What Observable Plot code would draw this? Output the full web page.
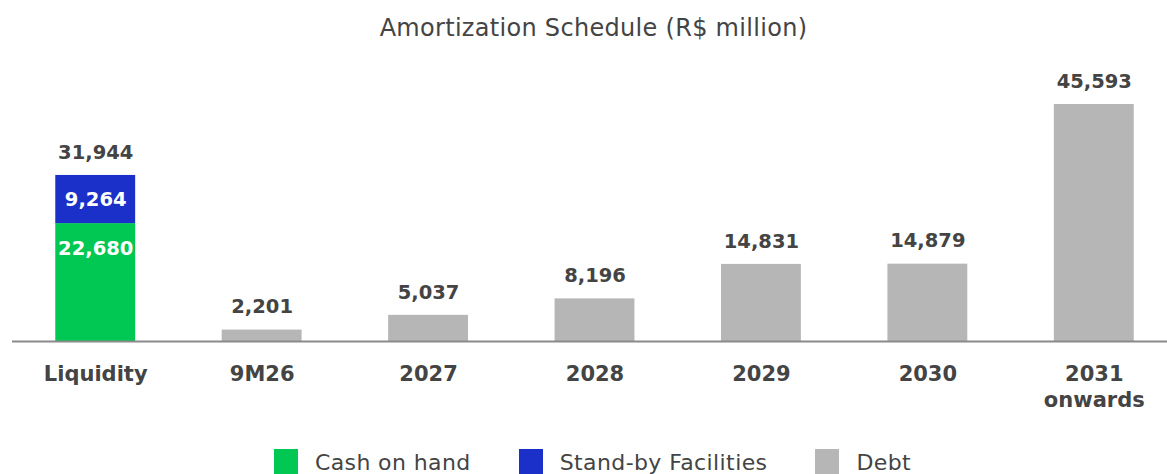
<!DOCTYPE html>
<html>
<head>
<meta charset="utf-8">
<script src="https://cdn.jsdelivr.net/npm/d3@7"></script>
<script src="https://cdn.jsdelivr.net/npm/@observablehq/plot@0.6"></script>
<style>
  html, body { margin: 0; padding: 0; background: #fff; }
  body { width: 1167px; height: 474px; overflow: hidden; font-family: "DejaVu Sans", sans-serif; color: #444; }
  #title { height: 56px; line-height: 56px; text-align: center; font-size: 24px; letter-spacing: 0.3px; color: #444; padding-left: 20px; }
  #legend { height: 42px; display: flex; justify-content: center; align-items: center; padding-left: 18px; font-size: 22px; letter-spacing: 0.4px; color: #444; }
  .item { display: flex; align-items: center; margin: 0 24px; }
  .sw { width: 24px; height: 26px; margin-right: 17px; }
</style>
</head>
<body>
<div id="title">Amortization Schedule (R$ million)</div>
<div id="chart"></div>
<div id="legend"></div>
<script>
const categories = ["Liquidity", "9M26", "2027", "2028", "2029", "2030", "2031\nonwards"];
const cashOnHand = [22680, null, null, null, null, null, null];
const standBy = [9264, null, null, null, null, null, null];
const debt = [null, 2201, 5037, 8196, 14831, 14879, 45593];
const seriesNames = ["Cash on hand", "Stand-by Facilities", "Debt"];
const seriesColors = ["#00c853", "#1b30c8", "#b6b6b6"];

const rows = [];
categories.forEach((c, i) => {
  if (cashOnHand[i] != null) rows.push({cat: c, series: seriesNames[0], value: cashOnHand[i]});
  if (standBy[i] != null) rows.push({cat: c, series: seriesNames[1], value: standBy[i]});
  if (debt[i] != null) rows.push({cat: c, series: seriesNames[2], value: debt[i]});
});
const totals = categories.map((c, i) => ({cat: c, total: (cashOnHand[i] || 0) + (standBy[i] || 0) + (debt[i] || 0)}));
const cashLabels = [], standLabels = [];
categories.forEach((c, i) => {
  if (cashOnHand[i] != null) cashLabels.push({cat: c, y: cashOnHand[i], v: cashOnHand[i]});
  if (standBy[i] != null) standLabels.push({cat: c, y: (cashOnHand[i] || 0) + standBy[i] / 2, v: standBy[i]});
});
const fmt = d3.format(",");
const numFont = "DejaVu Sans, sans-serif";

const chart = Plot.plot({
  width: 1167,
  height: 385,
  marginLeft: 12,
  marginRight: 0,
  marginTop: 0,
  marginBottom: 100,
  style: {color: "#444", background: "white"},
  x: {domain: categories, range: [12, 1177], paddingInner: 0.52, paddingOuter: 0.26, align: 0.5, round: false},
  y: {domain: [0, 45593], range: [285, 48], axis: null},
  color: {domain: seriesNames, range: seriesColors},
  marks: [
    Plot.barY(rows, {x: "cat", y: "value", fill: "series", order: seriesNames}),
    Plot.ruleY([0], {stroke: "#8a8a8a", strokeWidth: 2}),
    Plot.text(totals, {x: "cat", y: "total", text: d => fmt(d.total), dy: -23, fontSize: 19.5, fontWeight: "bold", fill: "#444", fontFamily: numFont}),
    Plot.text(cashLabels, {x: "cat", y: "y", text: d => fmt(d.v), dy: 25, fontSize: 19.5, fontWeight: "bold", fill: "white", fontFamily: numFont}),
    Plot.text(standLabels, {x: "cat", y: "y", text: d => fmt(d.v), fontSize: 19.5, fontWeight: "bold", fill: "white", fontFamily: numFont}),
    Plot.axisX({tickSize: 0, tickPadding: 20, fontSize: 21, fontWeight: "bold", lineHeight: 1.28, fontFamily: numFont, label: null})
  ]
});
document.getElementById("chart").appendChild(chart);

const legend = document.getElementById("legend");
seriesNames.forEach((s, i) => {
  const it = document.createElement("div");
  it.className = "item";
  const sw = document.createElement("div");
  sw.className = "sw";
  sw.style.background = seriesColors[i];
  const t = document.createElement("span");
  t.textContent = s;
  it.appendChild(sw); it.appendChild(t);
  legend.appendChild(it);
});
</script>
</body>
</html>
